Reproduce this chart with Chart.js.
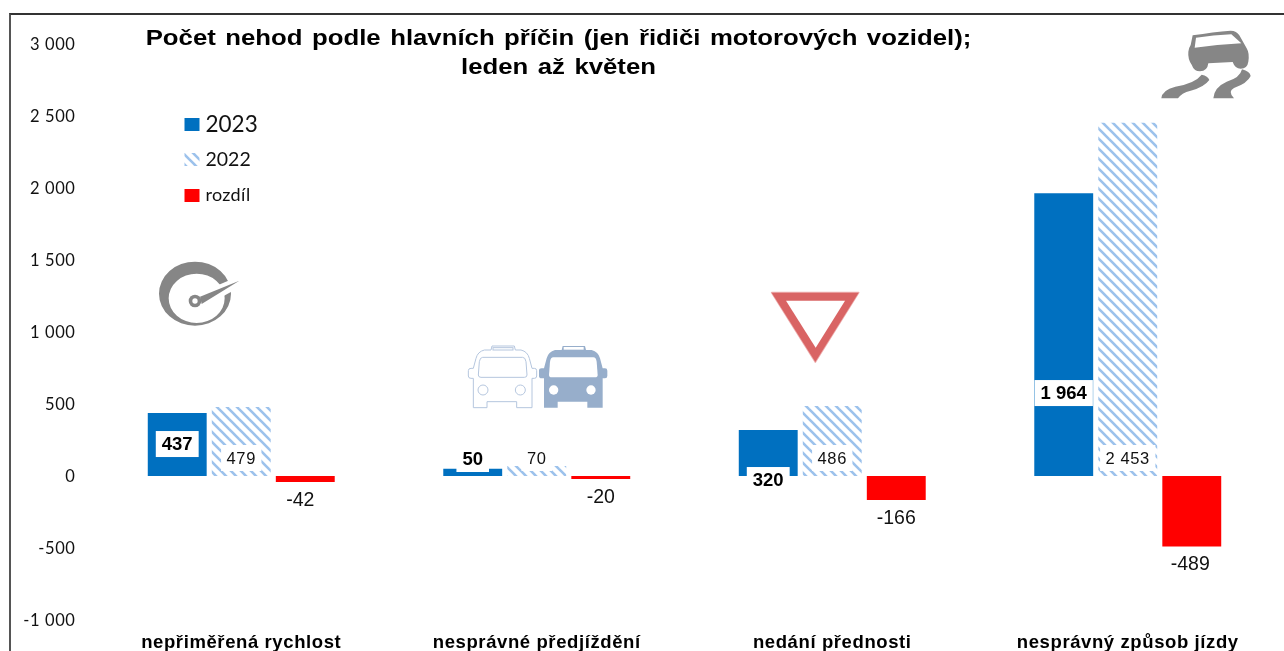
<!DOCTYPE html>
<html lang="cs">
<head>
<meta charset="utf-8">
<title>Počet nehod podle hlavních příčin</title>
<style>
html,body{margin:0;padding:0;background:#fff;width:1284px;height:651px;overflow:hidden}
#frame{position:absolute;left:9px;top:13px;width:1275px;height:638px;border-left:2px solid #555;border-top:2px solid #333;box-sizing:border-box}
canvas{position:absolute;left:0;top:0;display:block}
</style>
<script src="https://cdn.jsdelivr.net/npm/chart.js@4"></script>
</head>
<body>
<div id="frame"></div>
<canvas id="c" width="1284" height="651"></canvas>
<script>
const titleLines = ["Počet nehod podle hlavních příčin (jen řidiči motorových vozidel);", "leden až květen"];
const categories = ["nepřiměřená rychlost", "nesprávné předjíždění", "nedání přednosti", "nesprávný způsob jízdy"];
const values2023 = [437, 50, 320, 1964];
const values2022 = [479, 70, 486, 2453];
const valuesDiff = [-42, -20, -166, -489];
const seriesNames = ["2023", "2022", "rozdíl"];
const yTicks = [3000, 2500, 2000, 1500, 1000, 500, 0, -500, -1000];

const fmt = v => { const a = Math.abs(v); const s = a >= 1000 ? Math.floor(a/1000) + " " + String(a%1000).padStart(3,"0") : String(a); return (v<0?"-":"") + s; };

function hatch(){
  const t = document.createElement("canvas"); t.width = 10; t.height = 10;
  const g = t.getContext("2d");
  g.fillStyle = "#ffffff"; g.fillRect(0,0,10,10);
  g.strokeStyle = "#9cc2ec"; g.lineWidth = 2.6;
  for (const d of [-10,0,10]) { g.beginPath(); g.moveTo(d-2,-2); g.lineTo(d+12,12); g.stroke(); }
  return g.createPattern(t,"repeat");
}
const hatchFill = hatch();

const axisTextSpacing = {
  id:"axisTextSpacing",
  beforeDraw(chart){ chart.ctx.letterSpacing = "0.6px"; },
  beforeDatasetsDraw(chart){ chart.ctx.letterSpacing = "0px"; }
};

const barLabels = {
  id:"barLabels",
  afterDatasetsDraw(chart){
    const ctx = chart.ctx, y = chart.scales.y;
    const box = (text, cx, cy, font, color, pad, white, sp) => {
      ctx.save();
      ctx.font = font; ctx.textAlign="center"; ctx.textBaseline="middle"; ctx.letterSpacing = sp;
      if (white){ const w = ctx.measureText(text).width + pad; ctx.fillStyle="#fff"; ctx.fillRect(cx-w/2, cy-13, w, 26); }
      ctx.fillStyle = color; ctx.fillText(text, cx, cy+1);
      ctx.restore();
    };
    const anchors = [222, 118, -28, 576];
    const diffShift = [-5, 0, 0, -1.5];
    chart.getDatasetMeta(0).data.forEach((b,i)=> box(fmt(values2023[i]), b.x, y.getPixelForValue(anchors[i]), 'bold 18.5px "Liberation Sans"', "#000", 12, true, "0px"));
    chart.getDatasetMeta(1).data.forEach((b,i)=> box(fmt(values2022[i]), b.x, y.getPixelForValue(0)-18, '16.5px "Liberation Sans"', "#111", 11, true, "0.6px"));
    chart.getDatasetMeta(2).data.forEach((b,i)=> box(fmt(valuesDiff[i]), b.x+diffShift[i], b.y+17.5, '19.5px "Liberation Sans"', "#111", 0, false, "0px"));
  }
};

function iconDraw(ctx, ox, oy, fn){ ctx.save(); ctx.translate(ox,oy); ctx.scale(1/3,1/3); fn(ctx); ctx.restore(); }

const decorations = {
  id:"decorations",
  afterDraw(chart){
    const ctx = chart.ctx;
    // title
    ctx.save();
    ctx.fillStyle="#000"; ctx.textAlign="center"; ctx.textBaseline="middle";
    ctx.font='bold 22.5px "Liberation Sans"';
    ctx.wordSpacing="2px";
    ctx.translate(558.5,0); ctx.scale(1.145,1);
    ctx.fillText(titleLines[0],0,38.5);
    ctx.fillText(titleLines[1],0,67.5);
    ctx.restore();
    // legend
    const fills = chart.data.datasets.map(d=>d.backgroundColor);
    const rows=[[118,124.5,22.5,"0px"],[153,160,19.5,"0px"],[189,195.5,18,"0.3px"]];
    ctx.save();
    ctx.textAlign="left"; ctx.textBaseline="middle";
    seriesNames.forEach((n,i)=>{
      ctx.fillStyle=fills[i]; ctx.fillRect(184.5,rows[i][0],15,13);
      ctx.letterSpacing=rows[i][3];
      ctx.fillStyle="#111"; ctx.font=rows[i][2]+'px Lato'; ctx.fillText(n,205.5,rows[i][1]);
    });
    ctx.restore();
    // speedometer
    const grey="#868686";
    iconDraw(ctx,0,0,g=>{
      g.fillStyle=grey; const p=new Path2D();
      p.ellipse(585,881,108,96,0,0,Math.PI*2);
      p.ellipse(590,895,84,74,0,0,Math.PI*2);
      g.fill(p,"evenodd");
      g.fillStyle="#fff"; g.beginPath(); g.moveTo(620,870); g.lineTo(725,825); g.lineTo(725,858); g.lineTo(640,905); g.closePath(); g.fill();
      g.fillStyle=grey; g.beginPath(); g.moveTo(600,890); g.lineTo(718,842); g.lineTo(605,912); g.closePath(); g.fill();
      g.beginPath(); g.arc(585,903,19,0,Math.PI*2); g.fill();
      g.fillStyle="#fff"; g.beginPath(); g.arc(585,903,8,0,Math.PI*2); g.fill();
    });
    // buses
    const bus="M335 210L338 198H405L408 210H425Q445 215 450 235L458 265H465Q472 265 472 272V288Q472 295 465 295H458V383H412V365H323V383H282V295H275Q267 295 267 288V272Q267 265 275 265H282L290 235Q295 215 315 210Z";
    const win="M310 232H430Q438 232 440 245L443 285Q443 292 435 292H305Q297 292 297 285L300 245Q302 232 310 232Z";
    iconDraw(ctx,450,280,g=>{
      g.fillStyle="#97aecb"; g.fill(new Path2D(bus));
      g.fillStyle="#fff"; g.fill(new Path2D(win));
      for(const x of [311,423]){ g.beginPath(); g.arc(x,330,14,0,Math.PI*2); g.fill(); }
      g.fillRect(341,201,60,8);
      g.save(); g.translate(-212,0);
      g.strokeStyle="#b5c6de"; g.lineWidth=3;
      g.stroke(new Path2D(bus)); g.stroke(new Path2D(win));
      for(const x of [311,423]){ g.beginPath(); g.arc(x,330,15,0,Math.PI*2); g.stroke(); }
      g.strokeRect(341,203,60,7);
      g.restore();
    });
    // yield sign
    iconDraw(ctx,450,280,g=>{
      g.lineJoin="round";
      g.fillStyle="#d96464"; g.strokeStyle="#eeb0b0"; g.lineWidth=5;
      const p=new Path2D("M965 38H1226L1096 246Z");
      g.stroke(p); g.fill(p);
      g.fillStyle="#fff"; g.beginPath(); g.moveTo(1008,62); g.lineTo(1185,62); g.lineTo(1097,203); g.closePath(); g.fill();
    });
    // skidding car
    iconDraw(ctx,1020,0,g=>{
      g.fillStyle=grey;
      g.fill(new Path2D("M518 106Q580 96 632 92Q650 92 658 106L680 145Q689 160 685 185Q682 206 662 206Q645 206 638 186L565 190Q562 214 540 214Q522 214 515 194Q503 177 505 155Q507 142 512 135Z"));
      g.fill(new Path2D("M424 295Q426 270 466 260Q525 250 545 224Q564 228 568 240Q552 262 512 272Q484 279 474 295Z"));
      g.fill(new Path2D("M580 295Q582 262 620 245Q660 234 666 208Q690 214 692 228Q682 250 642 264Q622 274 642 295Z"));
      g.fillStyle="#fff";
      g.fill(new Path2D("M528 113Q580 106 634 103L664 130Q590 134 524 143Z"));
    });
  }
};

new Chart(document.getElementById("c"),{
  type:"bar",
  data:{ labels:categories, datasets:[
    {label:seriesNames[0],data:values2023,backgroundColor:"#0070c0"},
    {label:seriesNames[1],data:values2022,backgroundColor:hatchFill},
    {label:seriesNames[2],data:valuesDiff,backgroundColor:"#ff0000"}
  ]},
  options:{
    responsive:false, animation:false, devicePixelRatio:1,
    layout:{padding:{top:44,right:8.5,left:0,bottom:0}},
    datasets:{bar:{categoryPercentage:0.65,barPercentage:0.92,borderWidth:0}},
    plugins:{legend:{display:false},tooltip:{enabled:false},title:{display:false}},
    scales:{
      x:{ grid:{display:false,drawTicks:false}, border:{display:false},
          afterFit:s=>{s.height=31;},
          ticks:{autoSkip:false,maxRotation:0,padding:11.5,color:"#000",font:{family:'"Liberation Sans"',weight:"bold",size:18.5}}},
      y:{ min:-1000,max:3000, grid:{display:false,drawTicks:false}, border:{display:false},
          afterFit:s=>{s.width=93.5;},
          afterBuildTicks:s=>{s.ticks=yTicks.map(v=>({value:v}));},
          ticks:{padding:18,labelOffset:0.5,color:"#111",font:{family:"Lato",size:16.5},callback:v=>fmt(v)}}
    }
  },
  plugins:[axisTextSpacing,barLabels,decorations]
});
</script>
</body>
</html>
